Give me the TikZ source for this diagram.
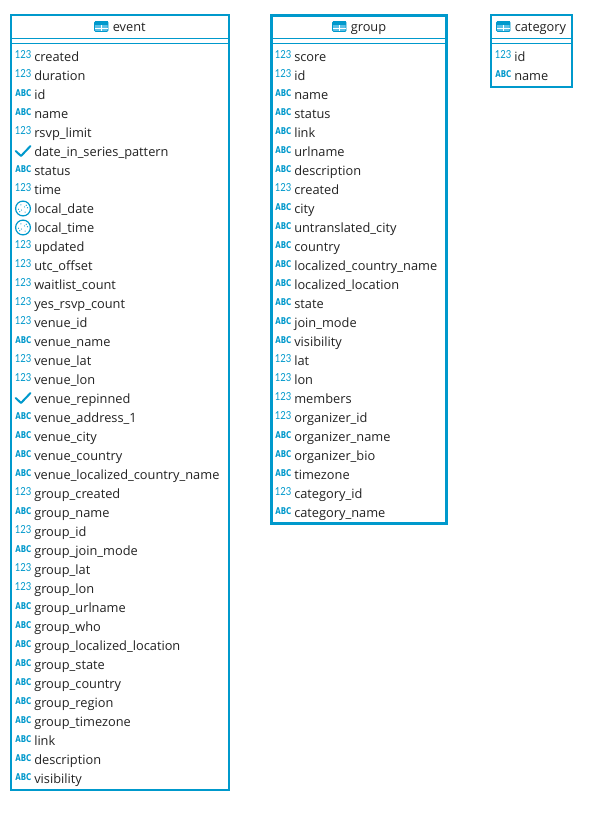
\documentclass[tikz,border=0pt]{standalone}
\usepackage{fontspec}
\setmainfont{Open Sans}
\newfontfamily\numfont[FakeStretch=0.86]{Lato}
\newfontfamily\abcfont[FakeStretch=0.76]{DejaVu Sans Bold}
\definecolor{dbblue}{HTML}{0099CC}
\definecolor{dbtext}{HTML}{222222}
\definecolor{dbfill}{HTML}{5BC0E6}
\tikzset{
  x=0.75pt,y=-0.75pt,
  tablebox/.style={draw=dbblue,fill=white,line width=1.5pt},
  thickbox/.style={draw=dbblue,fill=white,line width=2.25pt},
  headline/.style={draw=dbblue,line width=0.75pt},
  rowtext/.style={anchor=base west,inner sep=0pt,text=dbtext,font=\fontsize{9.6pt}{11pt}\selectfont},
  titletext/.style={anchor=base west,inner sep=0pt,text=dbtext,font=\fontsize{9.6pt}{11pt}\selectfont},
  numicon/.style={anchor=base west,inner sep=0pt,text=dbblue,font=\numfont\fontsize{8.3pt}{10pt}\selectfont},
  abcicon/.style={anchor=base west,inner sep=0pt,text=dbblue,font=\abcfont\fontsize{7pt}{8pt}\selectfont},
  checkmark/.style={draw=dbblue,line width=1.5pt,line cap=round,line join=round},
  clockring/.style={draw=dbblue,line width=0.9pt,fill=white},
  clockdot/.style={fill=dbblue,draw=none},
}
% table icon at top-left (x,y), 14x10 px
\newcommand{\tabicon}[2]{%
  \fill[dbfill,rounded corners=0.8pt] (#1,#2) rectangle ++(13.5,10);
  \draw[dbblue,line width=0.6pt,rounded corners=0.8pt] (#1,#2) rectangle ++(13.5,10);
  \fill[dbblue] (#1,#2) rectangle ++(13.5,3.4);
  \draw[white,line width=0.6pt] (#1+6.75,#2+3.4) -- ++(0,6.4) (#1+.3,#2+6.7) -- ++(13,0);
}
% one row: prefix, index, kind, name, x-origin, y-centre
\def\kN{n}\def\kA{a}\def\kC{c}\def\kD{d}
\newcommand{\rowitem}[6]{%
  \edef\kind{#3}%
  \ifx\kind\kN
    \node[numicon] (#1-#2-icon) at (#5-0.4,#6+2.2) {123};
  \else\ifx\kind\kA
    \node[abcicon] (#1-#2-icon) at (#5,#6+2.1) {ABC};
  \else\ifx\kind\kC
    \coordinate (#1-#2-icon) at (#5,#6);
    \draw[checkmark] (#5+.7,#6-.5) -- (#5+6,#6+4.5) -- (#5+15.5,#6-5.5);
  \else
    \coordinate (#1-#2-icon) at (#5+8,#6);
    \draw[clockring] (#5+8,#6) circle[radius=7.4];
    \foreach \a/\r in {135/4.6,135/2.2,-45/2.2,-45/4.6,60/4.2,240/4.2,170/4.6,-10/4.6}{
      \fill[clockdot] (#5+8,#6) ++(\a:\r*1) circle[radius=0.6];
    }
  \fi\fi\fi
  \node[rowtext] (#1-#2) at (#5+19,#6+5) {#4};
}

\begin{document}
\begin{tikzpicture}
\useasboundingbox (0,0) rectangle (603,817);
\fill[white] (0,0) rectangle (603,817);

% event
\draw[tablebox] (11,15) rectangle (229,790);
\draw[headline] (11,38.5) -- (229,38.5) (11,43.5) -- (229,43.5);
\tabicon{94.5}{21.5}
\node[titletext] (event-title) at (112.5,32) {event};
\foreach \k/\t [count=\i from 0] in {
n/created,n/duration,a/id,a/name,n/rsvp\_limit,c/date\_in\_series\_pattern,a/status,n/time,d/local\_date,d/local\_time,n/updated,n/utc\_offset,n/waitlist\_count,n/yes\_rsvp\_count,n/venue\_id,a/venue\_name,n/venue\_lat,n/venue\_lon,c/venue\_repinned,a/venue\_address\_1,a/venue\_city,a/venue\_country,a/venue\_localized\_country\_name,n/group\_created,a/group\_name,n/group\_id,a/group\_join\_mode,n/group\_lat,n/group\_lon,a/group\_urlname,a/group\_who,a/group\_localized\_location,a/group\_state,a/group\_country,a/group\_region,a/group\_timezone,a/link,a/description,a/visibility}{
  \pgfmathsetmacro{\yy}{56.5+19*\i}
  \rowitem{event}{\i}{\k}{\t}{15}{\yy}
}

% group
\draw[thickbox] (271.5,15.5) rectangle (446.5,523);
\draw[headline] (271.5,38.5) -- (446.5,38.5) (271.5,43.5) -- (446.5,43.5);
\tabicon{332.5}{21.5}
\node[titletext] (group-title) at (350.5,32) {group};
\foreach \k/\t [count=\i from 0] in {
n/score,n/id,a/name,a/status,a/link,a/urlname,a/description,n/created,a/city,a/untranslated\_city,a/country,a/localized\_country\_name,a/localized\_location,a/state,a/join\_mode,a/visibility,n/lat,n/lon,n/members,n/organizer\_id,a/organizer\_name,a/organizer\_bio,a/timezone,n/category\_id,a/category\_name}{
  \pgfmathsetmacro{\yy}{56.5+19*\i}
  \rowitem{group}{\i}{\k}{\t}{275}{\yy}
}

% category
\draw[tablebox] (491,15) rectangle (572,87);
\draw[headline] (491,38.5) -- (572,38.5) (491,43.5) -- (572,43.5);
\tabicon{496.5}{21.5}
\node[titletext] (category-title) at (514.5,32) {category};
\foreach \k/\t [count=\i from 0] in {n/id,a/name}{
  \pgfmathsetmacro{\yy}{56.5+19*\i}
  \rowitem{category}{\i}{\k}{\t}{495}{\yy}
}
\end{tikzpicture}
\end{document}
